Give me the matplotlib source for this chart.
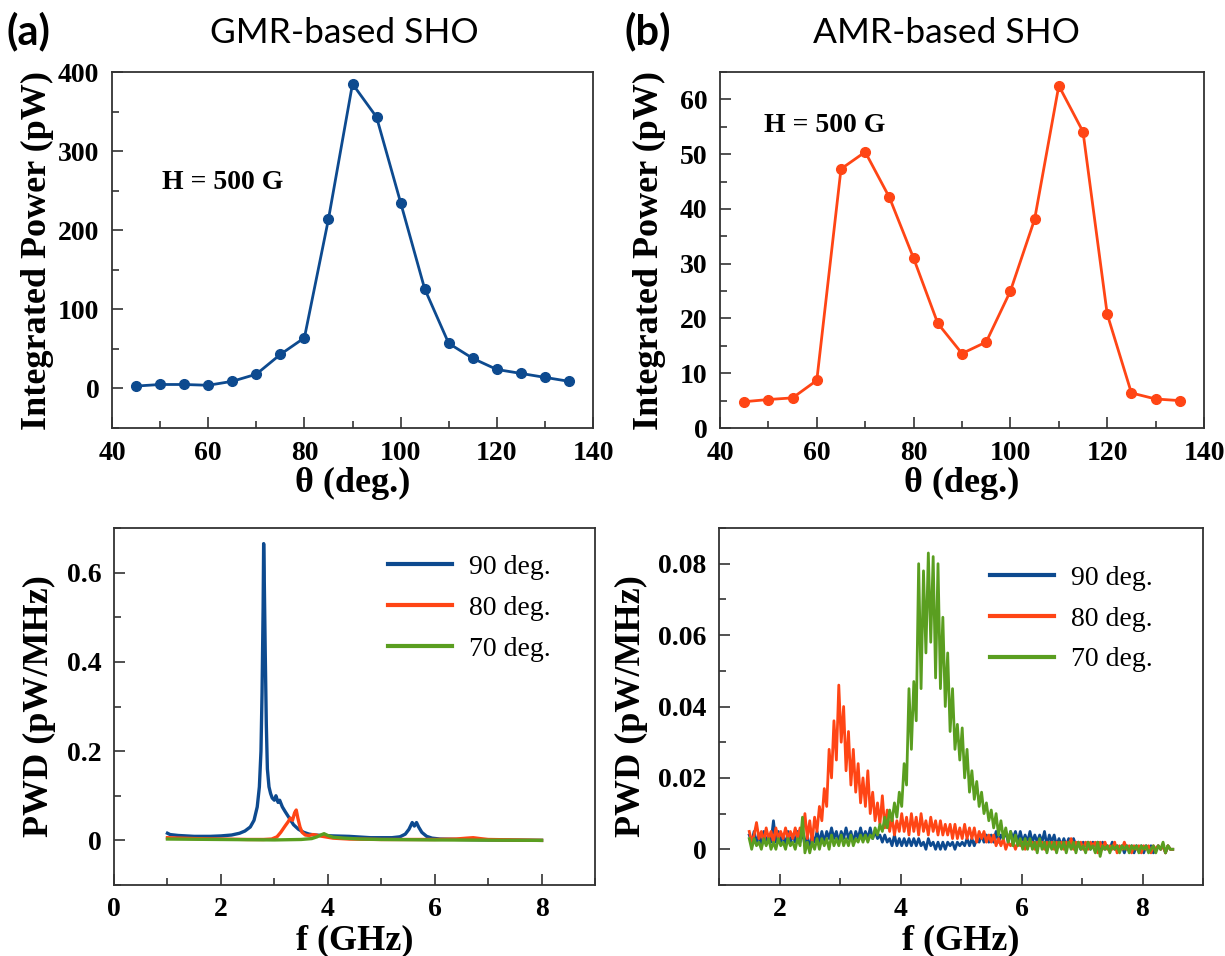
import numpy as np
import matplotlib
matplotlib.use("Agg")
import matplotlib.pyplot as plt
from matplotlib.ticker import MultipleLocator, FixedLocator, FixedFormatter

# ---------------- data ----------------
theta = [45, 50, 55, 60, 65, 70, 75, 80, 85, 90, 95, 100, 105, 110, 115, 120, 125, 130, 135]
gmr_power = [3, 5, 5, 4, 9, 18, 43, 64, 214, 385, 343, 235, 126, 57, 38, 24, 19, 14, 9]
amr_power = [4.8, 5.2, 5.5, 8.7, 47.3, 50.4, 42.1, 31.0, 19.1, 13.6, 15.7, 25.0, 38.1,
             62.5, 54.1, 20.8, 6.4, 5.3, 5.0]

# GMR spectra (f in GHz, PWD in pW/MHz)
gmr_f90 = [1.0, 1.05, 1.2, 1.5, 1.8, 2.0, 2.2, 2.35, 2.45, 2.55, 2.62, 2.68, 2.72, 2.75, 2.77,
           2.79, 2.80, 2.81, 2.83, 2.85, 2.87, 2.90, 2.93, 2.96, 3.00, 3.03, 3.07, 3.10, 3.15,
           3.20, 3.28, 3.36, 3.45, 3.55, 3.65, 3.75, 3.90, 4.1, 4.4, 4.8, 5.2, 5.35, 5.45, 5.52,
           5.58, 5.62, 5.66, 5.70, 5.76, 5.85, 5.95, 6.1, 6.5, 7.0, 7.5, 8.0]
gmr_p90 = [0.016, 0.013, 0.011, 0.009, 0.009, 0.010, 0.012, 0.016, 0.021, 0.030, 0.045, 0.075,
           0.12, 0.20, 0.33, 0.52, 0.665, 0.60, 0.42, 0.26, 0.16, 0.12, 0.105, 0.095, 0.09, 0.10,
           0.085, 0.09, 0.075, 0.065, 0.05, 0.035, 0.025, 0.018, 0.014, 0.012, 0.011, 0.010,
           0.009, 0.006, 0.006, 0.008, 0.014, 0.025, 0.04, 0.032, 0.04, 0.03, 0.018, 0.009,
           0.005, 0.003, 0.002, 0.001, 0.0005, 0.0]
gmr_f80 = [1.0, 1.5, 2.0, 2.5, 2.8, 2.95, 3.05, 3.12, 3.2, 3.26, 3.3, 3.34, 3.38, 3.41, 3.44,
           3.48, 3.52, 3.58, 3.65, 3.72, 3.78, 3.85, 3.95, 4.1, 4.4, 5.0, 6.0, 6.4, 6.6, 6.72,
           6.85, 7.0, 7.5, 8.0]
gmr_p80 = [0.006, 0.004, 0.003, 0.002, 0.002, 0.003, 0.008, 0.018, 0.032, 0.042, 0.05, 0.045,
           0.062, 0.068, 0.05, 0.03, 0.018, 0.012, 0.011, 0.013, 0.012, 0.010, 0.008, 0.005,
           0.003, 0.002, 0.002, 0.003, 0.005, 0.006, 0.004, 0.002, 0.001, 0.0]
gmr_f70 = [1.0, 2.0, 3.0, 3.5, 3.7, 3.8, 3.87, 3.93, 4.0, 4.1, 4.3, 4.6, 5.0, 6.0, 7.0, 8.0]
gmr_p70 = [0.003, 0.002, 0.001, 0.002, 0.004, 0.008, 0.012, 0.015, 0.011, 0.007, 0.005, 0.003,
           0.002, 0.001, 0.0005, 0.0]

# AMR spectra, sampled every 0.04 GHz from 1.5 to 8.5 GHz
amr_f = np.linspace(1.5, 8.5, 176)
amr_p90 = [
    0.004, 0.002, 0.005, 0.002, 0.004, 0.001, 0.005, 0.002, 0.004, 0.002,
    0.008, 0.002, 0.005, 0.002, 0.004, 0.001, 0.005, 0.002, 0.004, 0.002,
    0.005, 0.002, 0.005, 0.001, 0.004, 0.000, 0.004, 0.002, 0.005, 0.002,
    0.005, 0.002, 0.005, 0.003, 0.006, 0.003, 0.005, 0.002, 0.005, 0.003,
    0.006, 0.003, 0.005, 0.002, 0.005, 0.003, 0.006, 0.003, 0.005, 0.003,
    0.006, 0.003, 0.005, 0.003, 0.004, 0.002, 0.004, 0.002, 0.003, 0.001,
    0.004, 0.001, 0.003, 0.001, 0.003, 0.001, 0.003, 0.001, 0.003, 0.001,
    0.003, 0.001, 0.002, 0.000, 0.003, 0.001, 0.002, 0.000, 0.002, 0.000,
    0.002, 0.000, 0.002, 0.001, 0.002, 0.000, 0.002, 0.001, 0.002, 0.001,
    0.003, 0.001, 0.003, 0.001, 0.003, 0.002, 0.004, 0.002, 0.004, 0.002,
    0.004, 0.002, 0.005, 0.002, 0.004, 0.003, 0.005, 0.002, 0.005, 0.003,
    0.005, 0.002, 0.005, 0.002, 0.004, 0.002, 0.005, 0.002, 0.004, 0.002,
    0.004, 0.002, 0.005, 0.001, 0.004, 0.002, 0.004, 0.001, 0.003, 0.001,
    0.003, 0.001, 0.003, 0.001, 0.003, 0.001, 0.002, 0.000, 0.002, 0.001,
    0.002, 0.000, 0.002, 0.001, 0.002, 0.000, 0.002, 0.000, 0.001, 0.000,
    0.002, 0.000, 0.001, 0.000, 0.001, -0.001, 0.001, 0.000, 0.001, -0.001,
    0.001, 0.000, 0.001, -0.001, 0.001, 0.000, 0.001, -0.001, 0.000, 0.001,
    0.000, 0.001, -0.001, 0.001, 0.000, 0.000]
amr_p80 = [
    0.005, 0.002, 0.004, 0.0075, 0.003, 0.005, 0.002, 0.006, 0.003, 0.005,
    0.002, 0.006, 0.003, 0.005, 0.003, 0.006, 0.003, 0.005, 0.003, 0.006,
    0.003, 0.006, 0.004, 0.010, 0.003, 0.008, 0.002, 0.009, 0.005, 0.012,
    0.008, 0.017, 0.012, 0.028, 0.020, 0.036, 0.025, 0.046, 0.030, 0.040,
    0.022, 0.033, 0.018, 0.028, 0.016, 0.024, 0.013, 0.020, 0.012, 0.022,
    0.010, 0.016, 0.008, 0.013, 0.007, 0.015, 0.006, 0.011, 0.005, 0.009,
    0.004, 0.008, 0.005, 0.010, 0.005, 0.009, 0.004, 0.010, 0.005, 0.009,
    0.004, 0.010, 0.005, 0.008, 0.004, 0.009, 0.005, 0.008, 0.004, 0.008,
    0.004, 0.007, 0.004, 0.007, 0.003, 0.007, 0.003, 0.006, 0.003, 0.007,
    0.003, 0.006, 0.003, 0.006, 0.002, 0.005, 0.003, 0.005, 0.002, 0.004,
    0.002, 0.004, 0.001, 0.003, 0.001, 0.003, 0.000, 0.002, 0.001, 0.002,
    0.000, 0.002, 0.001, 0.002, 0.000, 0.002, 0.001, 0.002, 0.000, 0.002,
    0.001, 0.002, 0.000, 0.002, 0.001, 0.002, 0.000, 0.002, 0.001, 0.002,
    0.000, 0.002, 0.001, 0.003, 0.000, 0.002, 0.001, 0.002, 0.000, 0.002,
    0.000, 0.002, 0.001, 0.002, -0.001, 0.002, 0.000, 0.002, 0.000, 0.001,
    0.000, 0.002, -0.001, 0.001, 0.000, 0.002, 0.000, 0.001, -0.001, 0.001,
    0.000, 0.001, -0.001, 0.001, 0.000, 0.001, -0.001, 0.001, 0.000, 0.001,
    0.000, 0.001, -0.001, 0.001, 0.000, 0.000]
amr_p70 = [
    0.003, 0.000, 0.003, 0.001, 0.002, 0.000, 0.003, 0.001, 0.003, 0.000,
    0.002, 0.000, 0.003, 0.001, 0.002, 0.000, 0.003, 0.001, 0.002, 0.000,
    0.003, 0.001, 0.009, -0.001, 0.002, -0.001, 0.002, 0.000, 0.003, 0.000,
    0.003, 0.001, 0.003, 0.000, 0.004, 0.001, 0.003, 0.001, 0.004, 0.001,
    0.003, 0.001, 0.004, 0.001, 0.003, 0.002, 0.004, 0.002, 0.004, 0.002,
    0.004, 0.003, 0.006, 0.004, 0.007, 0.005, 0.009, 0.006, 0.011, 0.008,
    0.013, 0.009, 0.016, 0.012, 0.024, 0.018, 0.045, 0.028, 0.047, 0.036,
    0.080, 0.045, 0.078, 0.055, 0.083, 0.058, 0.082, 0.048, 0.080, 0.045,
    0.065, 0.040, 0.055, 0.033, 0.045, 0.028, 0.035, 0.025, 0.034, 0.020,
    0.028, 0.016, 0.022, 0.014, 0.019, 0.012, 0.016, 0.010, 0.013, 0.008,
    0.011, 0.006, 0.010, 0.004, 0.008, 0.003, 0.006, 0.002, 0.005, 0.001,
    0.004, 0.001, 0.003, 0.000, 0.003, 0.000, 0.003, 0.000, 0.002, -0.001,
    0.003, 0.000, 0.002, -0.001, 0.002, 0.000, 0.002, -0.001, 0.002, 0.000,
    0.002, -0.001, 0.002, 0.000, 0.002, -0.001, 0.002, 0.000, 0.001, -0.001,
    0.002, 0.000, 0.001, -0.001, 0.002, -0.002, 0.001, 0.000, 0.001, -0.001,
    0.001, 0.000, 0.001, -0.001, 0.001, 0.000, 0.001, -0.001, 0.001, 0.000,
    0.001, -0.001, 0.001, 0.000, 0.001, -0.001, 0.000, 0.001, -0.001, 0.001,
    0.000, 0.002, -0.001, 0.001, 0.000, 0.000]

legend_labels = ["90 deg.", "80 deg.", "70 deg."]

BLUE = "#0d4a8f"
ORANGE = "#ff4515"
GREEN = "#5a9e20"
FRAME = "#333333"
SERIF = "Liberation Serif"

W, H = 1225, 956
fig = plt.figure(figsize=(W / 100, H / 100), dpi=100)
fig.patch.set_facecolor("white")


def px_axes(left, top, right, bottom):
    return fig.add_axes([left / W, 1 - bottom / H, (right - left) / W, (bottom - top) / H])


def style(ax, xmaj, xmin, ymaj, ymin):
    for s in ax.spines.values():
        s.set_color(FRAME)
        s.set_linewidth(1.3)
    ax.xaxis.set_major_locator(MultipleLocator(xmaj))
    ax.xaxis.set_minor_locator(MultipleLocator(xmin))
    ax.yaxis.set_major_locator(MultipleLocator(ymaj))
    ax.yaxis.set_minor_locator(MultipleLocator(ymin))
    ax.tick_params(which="both", direction="in", top=False, right=False,
                   color=FRAME, width=1.2)
    ax.tick_params(which="major", length=8, pad=9, labelsize=20)
    ax.tick_params(which="minor", length=5)


def fonts(ax):
    for lab in ax.get_xticklabels() + ax.get_yticklabels():
        lab.set_fontfamily(SERIF)
        lab.set_fontweight("bold")


def labels(ax, xl, yl, ylx, xly):
    ax.set_xlabel(xl, fontfamily=SERIF, fontweight="bold", fontsize=26)
    ax.set_ylabel(yl, fontfamily=SERIF, fontweight="bold", fontsize=26)
    ax.yaxis.set_label_coords(ylx, 0.5)
    ax.xaxis.set_label_coords(0.5, xly)


# ---- (a) top: GMR integrated power ----
ax1 = px_axes(112, 72, 593, 428)
ax1.plot(theta, gmr_power, "-o", color=BLUE, lw=2, ms=7)
ax1.set_xlim(40, 140)
ax1.set_ylim(-50, 400)
style(ax1, 20, 10, 100, 50)
labels(ax1, "θ (deg.)", "Integrated Power (pW)", -0.12, -0.11)
ax1.text(50.4, 260, "H = 500 G", fontfamily=SERIF, fontweight="bold", fontsize=20,
         va="center")

# ---- (b) top: AMR integrated power ----
ax2 = px_axes(720, 72, 1204, 428)
ax2.plot(theta, amr_power, "-o", color=ORANGE, lw=2, ms=7)
ax2.set_xlim(40, 140)
ax2.set_ylim(0, 65)
style(ax2, 20, 10, 10, 5)
labels(ax2, "θ (deg.)", "Integrated Power (pW)", -0.112, -0.11)
ax2.text(49.1, 55.3, "H = 500 G", fontfamily=SERIF, fontweight="bold", fontsize=20,
         va="center")

# ---- (a) bottom: GMR spectra ----
ax3 = px_axes(114, 528, 595, 885)
ax3.plot(gmr_f90, gmr_p90, color=BLUE, lw=2.4, label=legend_labels[0])
ax3.plot(gmr_f80, gmr_p80, color=ORANGE, lw=2.4, label=legend_labels[1])
ax3.plot(gmr_f70, gmr_p70, color=GREEN, lw=2.4, label=legend_labels[2])
ax3.set_xlim(0, 9)
ax3.set_ylim(-0.1, 0.7)
style(ax3, 2, 1, 0.2, 0.1)
ax3.yaxis.set_major_locator(FixedLocator([0, 0.2, 0.4, 0.6]))
ax3.yaxis.set_major_formatter(FixedFormatter(["0", "0.2", "0.4", "0.6"]))
labels(ax3, "f (GHz)", "PWD (pW/MHz)", -0.12, -0.11)

# ---- (b) bottom: AMR spectra ----
ax4 = px_axes(719, 528, 1203, 885)
ax4.plot(amr_f, amr_p90, color=BLUE, lw=2.0, label=legend_labels[0])
ax4.plot(amr_f, amr_p80, color=ORANGE, lw=2.0, label=legend_labels[1])
ax4.plot(amr_f, amr_p70, color=GREEN, lw=2.0, label=legend_labels[2])
ax4.set_xlim(1, 9)
ax4.set_ylim(-0.01, 0.09)
style(ax4, 2, 1, 0.02, 0.01)
ax4.xaxis.set_major_locator(FixedLocator([2, 4, 6, 8]))
ax4.yaxis.set_major_locator(FixedLocator([0, 0.02, 0.04, 0.06, 0.08]))
ax4.yaxis.set_major_formatter(FixedFormatter(["0", "0.02", "0.04", "0.06", "0.08"]))
labels(ax4, "f (GHz)", "PWD (pW/MHz)", -0.147, -0.11)

for ax in (ax1, ax2, ax3, ax4):
    fonts(ax)

leg_kw = dict(frameon=False, loc="upper left", borderpad=0, borderaxespad=0,
              handlelength=2.3, handletextpad=0.6, labelspacing=0.55,
              prop={"family": SERIF, "size": 20})
ax3.legend(bbox_to_anchor=(0.57, 0.925), **leg_kw)
ax4.legend(bbox_to_anchor=(0.56, 0.895), **leg_kw)
for leg in (ax3.get_legend(), ax4.get_legend()):
    for line in leg.get_lines():
        line.set_linewidth(3)

# panel titles
fig.text(6 / W, 1 - 31 / H, "(a)", fontfamily="Lato", fontweight="bold", fontsize=30,
         va="center", ha="left")
fig.text(344 / W, 1 - 33 / H, "GMR-based SHO", fontfamily="Lato", fontsize=25.5,
         va="center", ha="center")
fig.text(624 / W, 1 - 31 / H, "(b)", fontfamily="Lato", fontweight="bold", fontsize=30,
         va="center", ha="left")
fig.text(946 / W, 1 - 33 / H, "AMR-based SHO", fontfamily="Lato", fontsize=25.5,
         va="center", ha="center")

fig.savefig("out.png", dpi=100, facecolor="white")
